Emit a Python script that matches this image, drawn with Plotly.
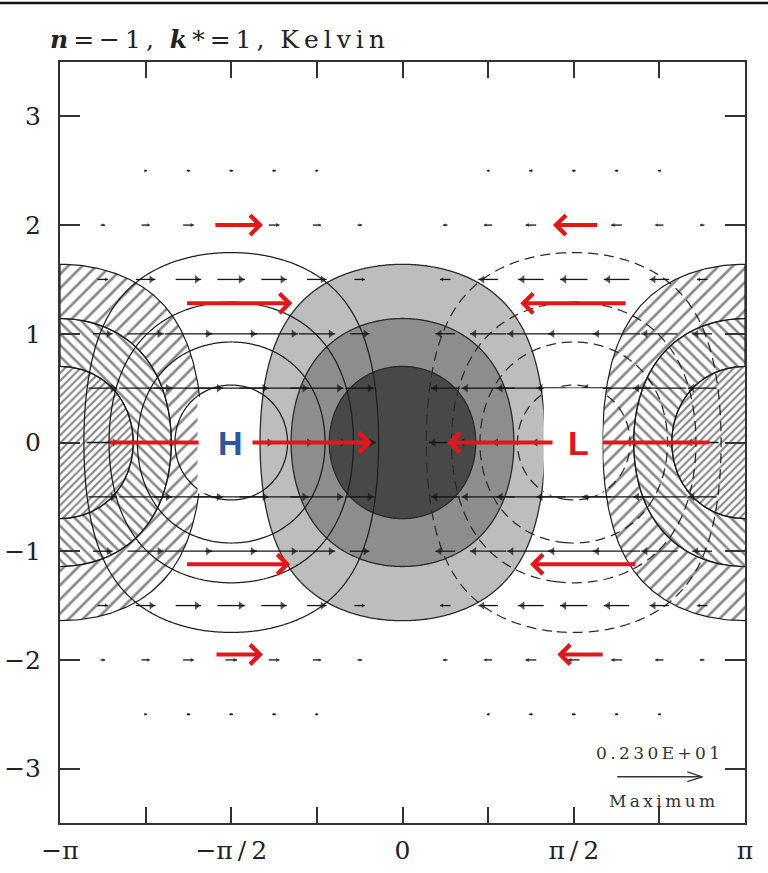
import numpy as np
import plotly.graph_objects as go

PI = np.pi

# ---------------- data (theoretical Kelvin wave, n=-1, k*=1) ----------------
amplitude = 2.3                      # maximum vector / field value (0.230E+01)
shade_levels = [0.6, 1.2, 1.8]       # convergence shading levels (grey) / divergence (hatch)
shade_colors = ['#bdbdbd', '#8d8d8d', '#484848']
hatch_patterns = ['/', '\\', '/']
hatch_sizes = [10, 8, 5.5]
hatch_solidity = [0.27, 0.32, 0.4]
phi_levels = [0.5, 1.0, 1.5, 2.0]    # geopotential contours (solid +, dashed -)
vector_xs = [k * PI / 8 for k in range(-8, 9)]
vector_ys = [-3.0, -2.5, -2.0, -1.5, -1.0, -0.5, 0.0, 0.5, 1.0, 1.5, 2.0, 2.5, 3.0]
vector_min = 0.05                    # vectors smaller than this are not drawn
vector_max_len = 0.78                # length (x units) of the maximum vector

TS = '\u2009'  # thin space used to imitate the wide lettering of the original
x_tick_vals = [k * PI / 4 for k in range(-4, 5)]
x_tick_text = ['−π', '', '−π' + TS + '/' + TS + '2', '', '0', '', 'π' + TS + '/' + TS + '2', '', 'π']
y_tick_vals = [-3, -2, -1, 0, 1, 2, 3]
y_tick_text = ['−3', '−2', '−1', '0', '1', '2', '3']

# red schematic wind arrows (tail x, head x, y)
red_arrow_tail_x = [-1.73, -1.99, -1.39, -1.99, -1.72, 1.80, 2.06, 1.39, 2.15, 1.85]
red_arrow_head_x = [-1.28, -1.01, -0.28, -1.03, -1.28, 1.38, 1.08, 0.41, 1.17, 1.42]
red_arrow_y = [2.0, 1.28, 0.0, -1.12, -1.95, 2.0, 1.28, 0.0, -1.12, -1.95]
red_line_x0 = [-2.70, 2.83]
red_line_x1 = [-1.87, 1.84]
red_line_y = [0.0, 0.0]

hl_labels = ['H', 'L']
hl_x = [-1.58, 1.615]
hl_y = [0.0, 0.0]
hl_colors = ['#2b57a0', '#e0161b']
label_box_x0 = [-1.88, 1.295]
label_box_x1 = [-1.335, 1.835]
label_box_y0 = [-0.47, -0.48]
label_box_y1 = [0.42, 0.50]

RED = '#e3161b'
LINE = '#1e1e1e'


def spaced(s):
    return TS.join(list(s))


# ---------------- fields ----------------
gx = np.linspace(-PI, PI, 361)
gy = np.linspace(-3.5, 3.5, 351)
X, Y = np.meshgrid(gx, gy)
env = np.exp(-Y ** 2 / 2)
phi = -amplitude * np.sin(X) * env
conv = amplitude * np.cos(X) * env

fig = go.Figure()

# grey convergence shading
dl = shade_levels[1] - shade_levels[0]
cs = [[0, 'white'], [0.16, 'white'], [0.17, shade_colors[0]], [0.49, shade_colors[0]],
      [0.51, shade_colors[1]], [0.82, shade_colors[1]], [0.84, shade_colors[2]], [1, shade_colors[2]]]
fig.add_trace(go.Contour(
    x=gx, y=gy, z=conv, colorscale=cs, showscale=False, hoverinfo='skip',
    contours=dict(start=shade_levels[0], end=shade_levels[-1], size=dl, coloring='fill'),
    line=dict(color='#2a2a2a', width=1.3)))

# geopotential contours
dp = phi_levels[1] - phi_levels[0]
fig.add_trace(go.Contour(
    x=gx, y=gy, z=phi, showscale=False, hoverinfo='skip',
    contours=dict(start=phi_levels[0], end=phi_levels[-1], size=dp, coloring='none'),
    line=dict(color=LINE, width=1.25)))
fig.add_trace(go.Contour(
    x=gx, y=gy, z=phi, showscale=False, hoverinfo='skip',
    contours=dict(start=-phi_levels[-1], end=-phi_levels[0], size=dp, coloring='none'),
    line=dict(color='#2a2a2a', width=1.25, dash='10px,6px')))


# hatched divergence rings at x = +/- pi
def half_width(c, ys):
    r = np.clip(c * np.exp(ys ** 2 / 2) / amplitude, -1, 1)
    return np.arccos(r)


def y_extent(c):
    return np.sqrt(2 * np.log(amplitude / c))


t = np.linspace(-PI / 2, PI / 2, 300)
for i, c_lo in enumerate(shade_levels):
    ys_o = y_extent(c_lo) * np.sin(t)
    xo = half_width(c_lo, ys_o)
    if i + 1 < len(shade_levels):
        c_hi = shade_levels[i + 1]
        ys_i = y_extent(c_hi) * np.sin(t[::-1])
        xi = half_width(c_hi, ys_i)
        px = np.concatenate([xo, xi])
        py = np.concatenate([ys_o, ys_i])
    else:
        px, py = xo, ys_o
    for side in (-1, 1):
        fig.add_trace(go.Scatter(
            x=side * (PI - px), y=py, mode='lines', fill='toself',
            fillcolor='rgba(0,0,0,0)',
            fillpattern=dict(shape=hatch_patterns[i], fgcolor='#111111',
                             bgcolor='rgba(0,0,0,0)', size=hatch_sizes[i],
                             solidity=hatch_solidity[i]),
            line=dict(color=LINE, width=1.2), hoverinfo='skip', showlegend=False))

# wind vectors
px_per_x = 685 / (2 * PI)
sx, sy, hx, hy, hsym, hs = [], [], [], [], [], []
for yv in vector_ys:
    for xv in vector_xs:
        uu = -amplitude * np.sin(xv) * np.exp(-yv ** 2 / 2)
        if abs(uu) < vector_min:
            continue
        L = uu / amplitude * vector_max_len
        x0, x1 = xv - L / 2, xv + L / 2
        sx += [x0, x1, None]
        sy += [yv, yv, None]
        size = float(np.clip(abs(L) * px_per_x * 0.36, 3, 7.5))
        tip_off = 1.155 * size / 2 / px_per_x
        hx.append(x1 - np.sign(L) * tip_off)
        hy.append(yv)
        hsym.append('triangle-right' if uu > 0 else 'triangle-left')
        hs.append(size)
fig.add_trace(go.Scatter(x=sx, y=sy, mode='lines', line=dict(color='#151515', width=1.3),
                         hoverinfo='skip', showlegend=False))
fig.add_trace(go.Scatter(x=hx, y=hy, mode='markers',
                         marker=dict(symbol=hsym, size=hs, color='#151515', line=dict(width=0)),
                         hoverinfo='skip', showlegend=False))

# reference vector (open head)
ref_x0 = 1.97
ref_y = -3.075
ref_tip = ref_x0 + vector_max_len
head_dx = 15 / px_per_x
head_dy = 0.045
fig.add_trace(go.Scatter(
    x=[ref_x0, ref_tip, None, ref_tip - head_dx, ref_tip, ref_tip - head_dx],
    y=[ref_y, ref_y, None, ref_y + head_dy, ref_y, ref_y - head_dy],
    mode='lines', line=dict(color='#333', width=1.4), hoverinfo='skip', showlegend=False))

annotations = []
for tx, hxx, yy in zip(red_arrow_tail_x, red_arrow_head_x, red_arrow_y):
    annotations.append(dict(x=hxx, y=yy, ax=tx, ay=yy, xref='x', yref='y', axref='x', ayref='y',
                            text='', showarrow=True, arrowhead=4, arrowsize=0.95,
                            arrowwidth=4, arrowcolor=RED, standoff=0, startstandoff=0))
for x0, x1, yy in zip(red_line_x0, red_line_x1, red_line_y):
    annotations.append(dict(x=x1, y=yy, ax=x0, ay=yy, xref='x', yref='y', axref='x', ayref='y',
                            text='', showarrow=True, arrowhead=0, arrowwidth=4,
                            arrowcolor=RED, standoff=0, startstandoff=0))
for lab, xx, yy, col in zip(hl_labels, hl_x, hl_y, hl_colors):
    annotations.append(dict(x=xx, y=yy, xref='x', yref='y', text='<b>%s</b>' % lab,
                            showarrow=False, font=dict(family='Liberation Sans', size=34, color=col)))
annotations.append(dict(x=ref_x0 + vector_max_len / 2 - 0.02, y=-2.86, xref='x', yref='y',
                        text=spaced('0.230E+01'), showarrow=False,
                        font=dict(family='DejaVu Serif', size=17, color='#333')))
annotations.append(dict(x=ref_x0 + vector_max_len / 2 + 0.02, y=-3.30, xref='x', yref='y',
                        text=spaced('Maximum'), showarrow=False,
                        font=dict(family='DejaVu Serif', size=17, color='#333')))
title_text = ('<b><i>n</i></b>' + TS + spaced('=−1,') + '  ' + '<b><i>k</i></b>' + TS
              + spaced('*=1,') + '  ' + spaced('Kelvin'))
annotations.append(dict(x=-0.018, y=1.029, xref='paper', yref='paper', xanchor='left',
                        yanchor='middle', showarrow=False, text=title_text,
                        font=dict(family='DejaVu Serif', size=25, color='#222')))

shapes = []
for x0, x1, y0, y1 in zip(label_box_x0, label_box_x1, label_box_y0, label_box_y1):
    shapes.append(dict(type='rect', xref='x', yref='y', x0=x0, x1=x1, y0=y0, y1=y1,
                       fillcolor='white', line=dict(width=0), layer='above'))
shapes.append(dict(type='line', xref='paper', yref='paper', x0=-60 / 685, x1=1 + 23 / 685,
                   y0=1 + 59 / 761, y1=1 + 59 / 761, line=dict(color='#111', width=2.5)))

fig.update_layout(
    width=768, height=873, margin=dict(l=60, r=23, t=62, b=50, autoexpand=False),
    plot_bgcolor='white', paper_bgcolor='white', showlegend=False,
    annotations=annotations, shapes=shapes,
    xaxis=dict(range=[-PI, PI], tickvals=x_tick_vals, ticktext=x_tick_text,
               ticks='inside', ticklen=16, tickwidth=1.5, tickcolor='#333',
               showline=True, linewidth=2, linecolor='#333', mirror='ticks',
               showgrid=False, zeroline=False, ticklabelstandoff=4, automargin=False,
               tickfont=dict(family='DejaVu Serif', size=25, color='#222')),
    yaxis=dict(range=[-3.5, 3.5], tickvals=y_tick_vals, ticktext=y_tick_text,
               ticks='inside', ticklen=20, tickwidth=1.5, tickcolor='#333',
               showline=True, linewidth=2, linecolor='#333', mirror='ticks',
               showgrid=False, zeroline=False, ticklabelstandoff=12, automargin=False,
               tickfont=dict(family='DejaVu Serif', size=25, color='#222')),
)

fig.write_html('out.html')
